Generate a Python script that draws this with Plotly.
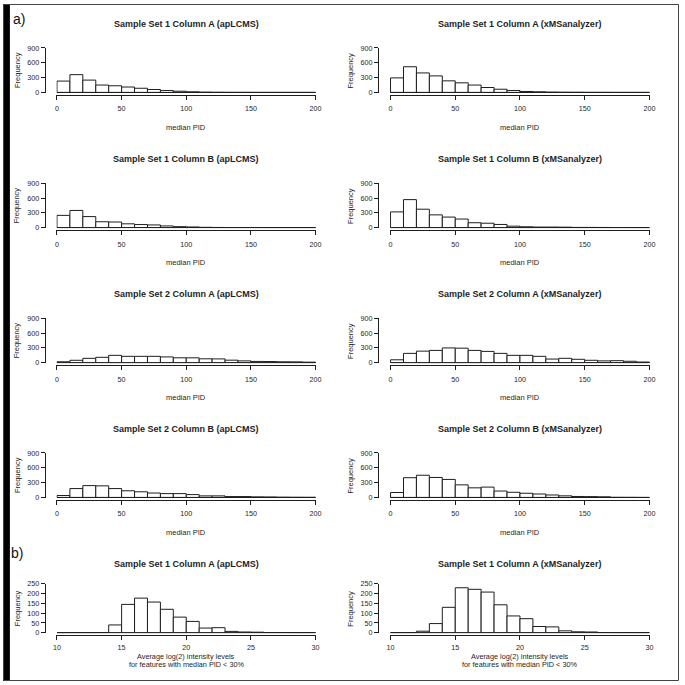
import plotly.graph_objects as go

W = H = 685

# ---------------- data ----------------
PID_EDGES = list(range(0, 201, 10))
INT_EDGES = list(range(10, 31, 1))

S1A_APLCMS = [230, 360, 250, 150, 135, 110, 85, 60, 40, 25, 13, 6, 3, 2, 2, 1, 1, 1, 1, 1]
S1A_XMS = [295, 520, 395, 335, 235, 195, 150, 100, 65, 40, 20, 13, 7, 4, 3, 2, 2, 1, 1, 1]
S1B_APLCMS = [250, 350, 225, 120, 115, 78, 63, 55, 35, 20, 14, 7, 4, 3, 2, 2, 1, 1, 1, 1]
S1B_XMS = [320, 570, 375, 260, 215, 175, 100, 90, 65, 30, 18, 12, 12, 10, 5, 5, 4, 3, 2, 1]
S2A_APLCMS = [20, 50, 90, 110, 150, 130, 130, 130, 118, 100, 100, 80, 78, 52, 38, 27, 25, 20, 18, 12]
S2A_XMS = [60, 190, 235, 250, 300, 295, 250, 230, 190, 150, 150, 130, 75, 90, 70, 50, 38, 42, 30, 15]
S2B_APLCMS = [40, 180, 240, 235, 180, 135, 115, 90, 78, 78, 58, 32, 32, 18, 18, 12, 10, 6, 4, 3]
S2B_XMS = [100, 400, 450, 405, 365, 255, 195, 210, 130, 105, 85, 70, 50, 33, 20, 17, 13, 3, 2, 1]
INT_APLCMS = [0, 0, 0, 1, 40, 145, 177, 157, 120, 80, 58, 24, 26, 7, 4, 3, 1, 1, 0, 0]
INT_XMS = [0, 0, 8, 47, 130, 230, 222, 208, 143, 86, 72, 32, 30, 10, 5, 4, 1, 0, 0, 0]

PID_YTICKS = [0, 300, 600, 900]
PID_XTICKS = [0, 50, 100, 150, 200]
INT_YTICKS = [0, 50, 100, 150, 200, 250]
INT_XTICKS = [10, 15, 20, 25, 30]

TITLES = [
    "Sample Set 1 Column A (apLCMS)", "Sample Set 1 Column A (xMSanalyzer)",
    "Sample Set 1 Column B (apLCMS)", "Sample Set 1 Column B (xMSanalyzer)",
    "Sample Set 2 Column A (apLCMS)", "Sample Set 2 Column A (xMSanalyzer)",
    "Sample Set 2 Column B (apLCMS)", "Sample Set 2 Column B (xMSanalyzer)",
    "Sample Set 1 Column A (apLCMS)", "Sample Set 1 Column A (xMSanalyzer)",
]
COUNTS = [S1A_APLCMS, S1A_XMS, S1B_APLCMS, S1B_XMS, S2A_APLCMS, S2A_XMS,
          S2B_APLCMS, S2B_XMS, INT_APLCMS, INT_XMS]
XLAB_PID = "median PID"
XLAB_INT_1 = "Average log(2) intensity levels"
XLAB_INT_2 = "for features with median PID &lt; 30%"

# ---------------- layout geometry (pixels) ----------------
COLS = [dict(x0=54.7, x1=316.7, yline=42.3, ylab=14.0),
        dict(x0=392.7, x1=655.0, yline=380.0, ylab=352.0)]
ROWS = [dict(base=89.5, top=44.5), dict(base=226.3, top=181.5),
        dict(base=363.0, top=318.0), dict(base=499.3, top=454.3),
        dict(base=636.2, top=586.7)]

FONT = "Liberation Sans, Arial, sans-serif"
INK = "#1e1e1e"


def px_x(p):
    return p / W


def px_y(p):
    return 1 - p / H


fig = go.Figure()
layout = dict(width=W, height=H, margin=dict(l=0, r=0, t=0, b=0),
              paper_bgcolor="white", plot_bgcolor="white", showlegend=False,
              font=dict(family=FONT, color=INK), bargap=0)
annotations = []


def note(text, x, y, size, angle=0, color=INK):
    annotations.append(dict(text=text, x=px_x(x), y=px_y(y), xref="paper", yref="paper",
                            showarrow=False, xanchor="center", yanchor="middle",
                            textangle=angle,
                            font=dict(size=size, family=FONT, color=color)))


for i in range(10):
    r, c = divmod(i, 2)
    row, col = ROWS[r], COLS[c]
    is_int = r == 4
    edges = INT_EDGES if is_int else PID_EDGES
    yticks = INT_YTICKS if is_int else PID_YTICKS
    xticks = INT_XTICKS if is_int else PID_XTICKS
    counts = COUNTS[i]
    ymax = yticks[-1]
    wid = edges[1] - edges[0]
    centers = [e + wid / 2 for e in edges[:-1]]

    ax = "" if i == 0 else str(i + 1)
    xa, ya = "x" + ax, "y" + ax

    ppu_x = (col["x1"] - col["x0"]) / (edges[-1] - edges[0])
    ppu_y = (row["base"] - row["top"]) / ymax
    padx = 0.5 / ppu_x
    pady = 0.6 / ppu_y

    fig.add_trace(go.Bar(x=centers, y=counts, width=[wid] * len(centers),
                         marker=dict(color="white", line=dict(color=INK, width=1)),
                         xaxis=xa, yaxis=ya, hoverinfo="skip"))
    # zero-height bins still show as a line, like R's hist
    fig.add_trace(go.Scatter(x=[edges[0], edges[-1]], y=[0, 0], mode="lines",
                             line=dict(color=INK, width=1), xaxis=xa, yaxis=ya,
                             hoverinfo="skip", cliponaxis=False))

    layout["xaxis" + ax] = dict(
        domain=[px_x(col["x0"] - 0.5), px_x(col["x1"] + 0.5)],
        range=[edges[0] - padx, edges[-1] + padx],
        anchor="free", position=px_y(row["base"] + 2.3),
        showline=True, linecolor=INK, linewidth=1, ticks="outside", ticklen=4,
        tickwidth=1, tickcolor=INK, tickvals=xticks, showgrid=False, zeroline=False,
        tickfont=dict(size=7.2, family=FONT, color=INK), fixedrange=True,
        ticklabelstandoff=1 if is_int else 3)
    layout["yaxis" + ax] = dict(
        domain=[px_y(row["base"] + 0.6), px_y(row["top"])],
        range=[-pady, ymax],
        anchor="free", position=px_x(col["yline"]),
        showline=True, linecolor=INK, linewidth=1, ticks="outside", ticklen=4,
        tickwidth=1, tickcolor=INK, tickvals=yticks, showgrid=False, zeroline=False,
        tickfont=dict(size=7.2, family=FONT, color=INK), fixedrange=True)

    cx = (col["x0"] + col["x1"]) / 2
    title_y = 566.7 if is_int else row["base"] - 69.3
    note("<b>" + TITLES[i] + "</b>", cx, title_y, 9)
    note("Frequency", col["ylab"], (row["base"] + row["top"]) / 2, 7.5, angle=-90)
    if is_int:
        note(XLAB_INT_1, cx, 660.2, 7.3)
        note(XLAB_INT_2, cx, 668.6, 7.3)
    else:
        note(XLAB_PID, cx, row["base"] + 35.5, 7.5)

note("a)", 16, 15, 14, color="#111111")
note("b)", 14, 555, 14, color="#111111")

layout["annotations"] = annotations
layout["shapes"] = [
    dict(type="rect", xref="paper", yref="paper", x0=0, x1=px_x(7), y0=0, y1=1,
         fillcolor="black", line=dict(width=0), layer="above"),
    dict(type="rect", xref="paper", yref="paper", x0=px_x(0.5), x1=px_x(684.5),
         y0=px_y(684.5), y1=px_y(0.5), line=dict(color="#444444", width=1),
         fillcolor="rgba(0,0,0,0)", layer="above"),
]

fig.update_layout(**layout)
fig.write_html("out.html",
               config={"displayModeBar": False, "staticPlot": True},
               post_script="document.body.style.margin='0';"
                           "document.body.style.padding='0';"
                           "document.body.style.overflow='hidden';")
